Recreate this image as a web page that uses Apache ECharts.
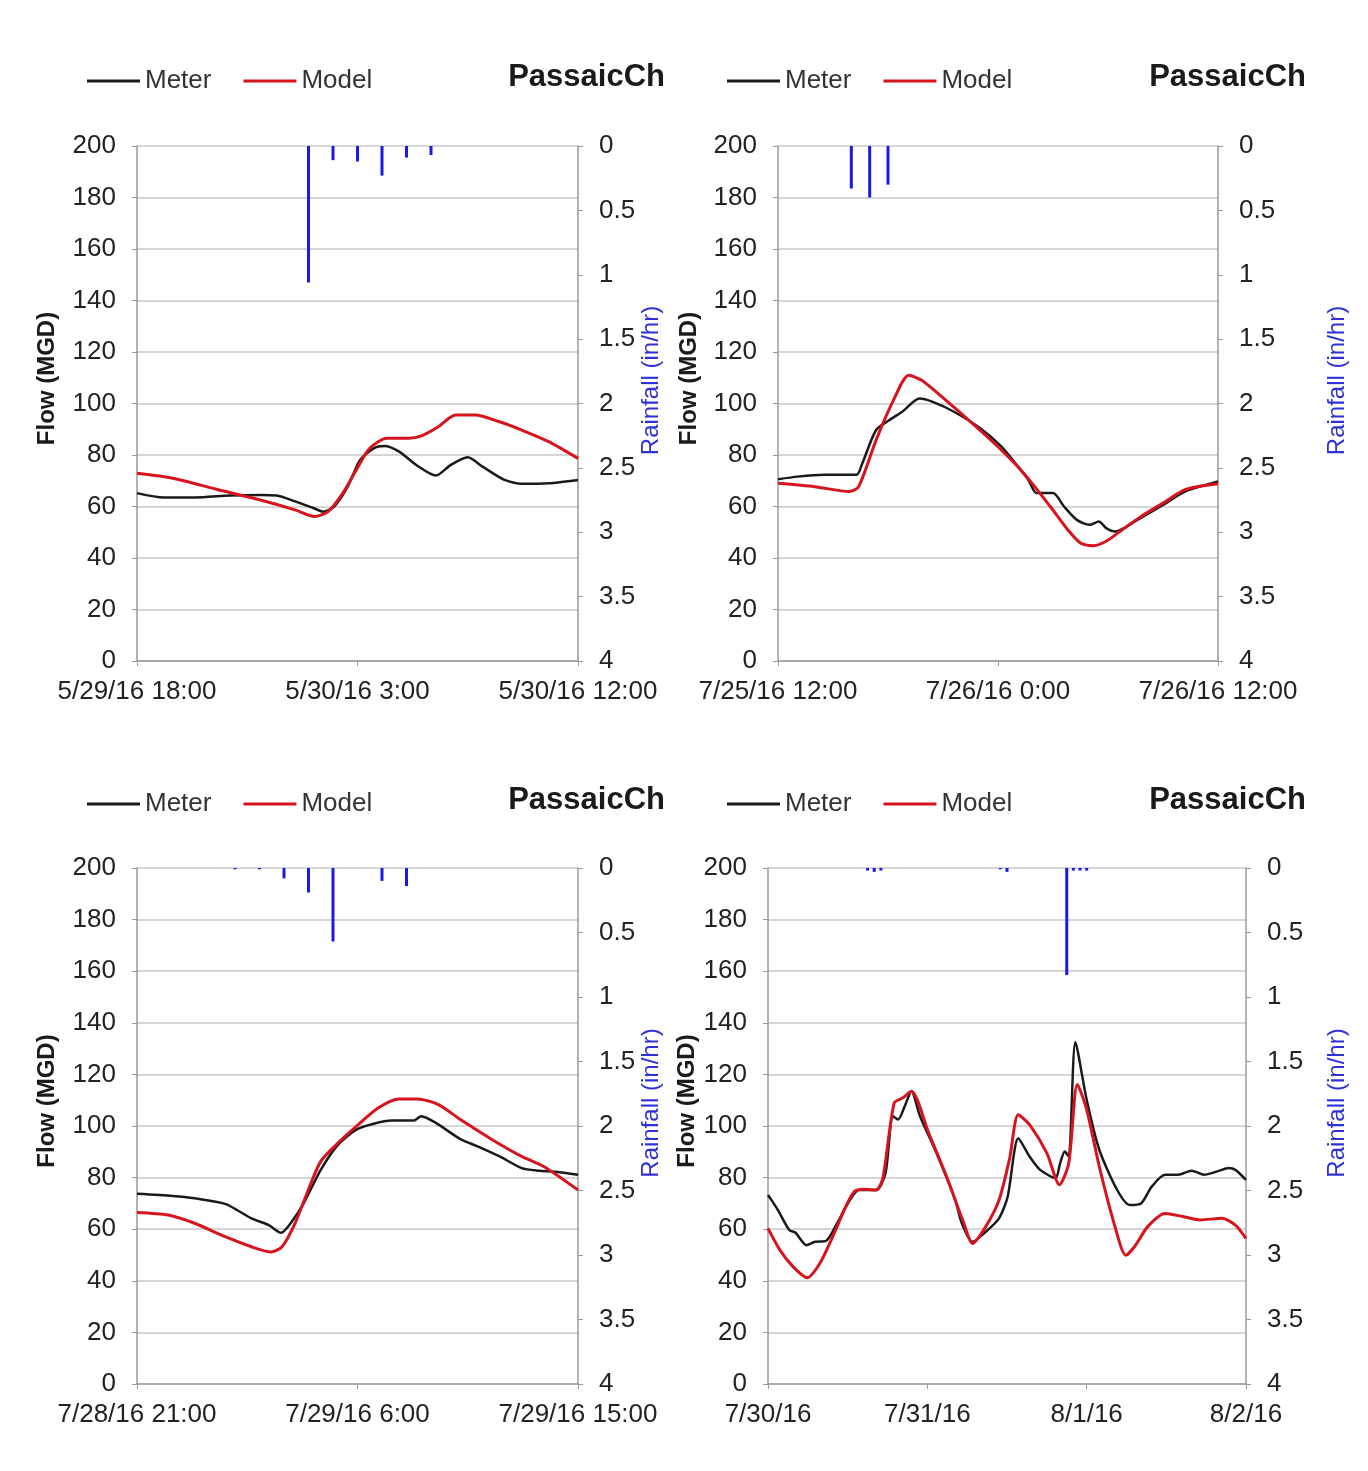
<!DOCTYPE html>
<html><head><meta charset="utf-8">
<script src="https://cdn.jsdelivr.net/npm/echarts@6/dist/echarts.min.js"></script>
<style>html,body{margin:0;padding:0;background:#fff}#c{width:1368px;height:1471px}</style>
</head><body><div id="c"></div>
<script>
// ---------- Panel 1: 5/29/16 18:00 - 5/30/16 12:00 (hours from start) ----------
const p1XTicks = ['5/29/16 18:00', '5/30/16 3:00', '5/30/16 12:00'];
const p1MeterT = [0, 1.1, 2.35, 3.8, 5.0, 5.7, 6.45, 7.2, 7.6, 8.05, 8.6, 9.1, 9.66, 10.1, 10.7, 11.4, 12.2, 12.8, 13.5, 14.1, 15.0, 15.7, 16.8, 18];
const p1MeterQ = [65.2, 63.5, 63.5, 64.3, 64.5, 64.3, 62, 59.4, 58, 60, 67.7, 78, 82.6, 83.5, 81.3, 76.1, 72, 76.1, 79.1, 75.5, 70.3, 68.8, 69, 70.3];
const p1ModelT = [0, 1.46, 3.24, 5.0, 6.45, 7.25, 7.8, 8.4, 8.95, 9.5, 10.2, 11.1, 11.6, 12.3, 13.0, 13.8, 14.8, 15.7, 16.8, 18];
const p1ModelQ = [72.9, 71, 66.7, 62.6, 58.7, 56.1, 58, 65.2, 74.2, 82.6, 86.5, 86.5, 87.4, 91, 95.5, 95.5, 92.9, 89.7, 85.2, 78.7];
const p1RainT = [7, 8, 9, 10, 11, 12];
const p1RainR = [1.06, 0.11, 0.12, 0.23, 0.09, 0.07];

// ---------- Panel 2: 7/25/16 12:00 - 7/26/16 12:00 ----------
const p2XTicks = ['7/25/16 12:00', '7/26/16 0:00', '7/26/16 12:00'];
const p2MeterT = [0, 1.07, 2.5, 4.28, 4.6, 5.35, 6.06, 6.77, 7.72, 8.44, 9.6, 11.05, 12.2, 12.95, 13.66, 14.1, 15.0, 15.6, 16.3, 17.0, 17.5, 17.9, 18.4, 19.6, 21, 22.2, 24];
const p2MeterQ = [70.6, 71.6, 72.3, 72.3, 76.8, 89.7, 93.5, 96.8, 101.9, 100.6, 96.8, 90.3, 83.2, 76.8, 70.3, 65.2, 65.2, 60, 54.8, 52.9, 54.2, 51.6, 50.3, 54.8, 60.6, 65.8, 69.7];
const p2ModelT = [0, 2.0, 3.9, 4.4, 5.35, 6.3, 7.13, 7.84, 9.15, 10.6, 12.0, 13.4, 14.85, 15.8, 16.5, 17.2, 17.9, 18.65, 19.8, 21.0, 22.2, 24];
const p2ModelQ = [69, 67.7, 65.8, 67.7, 85.8, 101.3, 111, 109, 101.3, 92.3, 83.2, 72.9, 60, 51, 45.8, 44.8, 46.5, 50.3, 56.1, 61.3, 66.5, 68.8];
const p2RainT = [4, 5, 6];
const p2RainR = [0.33, 0.40, 0.30];

// ---------- Panel 3: 7/28/16 21:00 - 7/29/16 15:00 ----------
const p3XTicks = ['7/28/16 21:00', '7/29/16 6:00', '7/29/16 15:00'];
const p3MeterT = [0, 1.46, 2.35, 3.6, 4.67, 5.38, 5.88, 6.27, 6.8, 7.5, 8.2, 8.95, 9.66, 10.4, 11.3, 11.6, 12.2, 13.2, 13.9, 14.8, 15.7, 16.4, 17.1, 18];
const p3MeterQ = [73.7, 72.9, 72.0, 69.8, 64.2, 61.6, 58.6, 62.3, 70, 83, 92.7, 98.6, 100.9, 102.1, 102.1, 103.8, 101.2, 94.9, 92.1, 88.2, 83.7, 82.7, 82.3, 81.1];
const p3ModelT = [0, 1.28, 2.35, 3.6, 4.67, 5.47, 5.92, 6.45, 6.99, 7.5, 8.2, 8.95, 9.84, 10.7, 11.44, 12.3, 13.2, 14.5, 15.7, 16.6, 18];
const p3ModelQ = [66.5, 65.5, 62.3, 57.1, 53.2, 51.2, 53.2, 62.3, 75.2, 86.3, 93.4, 99.9, 107, 110.5, 110.5, 108.3, 102.5, 94.7, 88.2, 84.3, 75.2];
const p3RainT = [4, 5, 6, 7, 8, 10, 11];
const p3RainR = [0.01, 0.01, 0.08, 0.19, 0.57, 0.10, 0.14];

// ---------- Panel 4: 7/30/16 - 8/2/16 ----------
const p4XTicks = ['7/30/16', '7/31/16', '8/1/16', '8/2/16'];
const p4MeterT = [0, 1.5, 3.2, 4.15, 5.8, 7.1, 8.76, 10.4, 12.4, 13.7, 16.3, 17.7, 18.8, 19.6, 20.6, 21.6, 22.9, 25.6, 28.2, 29.2, 30.8, 32.8, 34.8, 36.1, 37.7, 39.4, 41, 43.3, 44, 44.7, 45.3, 46.3, 48, 49.9, 52.6, 54.5, 56.2, 57.8, 59.8, 61.8, 63.8, 65.7, 67.7, 69.4, 70.4, 72];
const p4MeterQ = [73.3, 67.4, 59.7, 58.6, 53.8, 55.1, 55.5, 62.3, 71.6, 75.2, 75.2, 81.7, 103.8, 102.5, 107.7, 113.5, 103.8, 88.2, 71.3, 62.3, 55.1, 59, 64.2, 72.6, 95.3, 88.2, 83, 79.8, 85.6, 90.1, 88.2, 132.5, 110.2, 90.8, 75.2, 69.4, 70, 76.5, 81.1, 81.1, 82.7, 81.1, 82.4, 83.7, 83, 79.1];
const p4ModelT = [0, 1.8, 3.8, 5.9, 7.8, 9.75, 11.7, 13.0, 14.4, 16.3, 17.3, 19.0, 20.3, 21.6, 24.2, 26.9, 29.5, 30.8, 32.8, 34.8, 36.4, 37.7, 39.4, 42, 43.9, 45.3, 46.6, 48, 49.9, 52.2, 53.9, 55.2, 57.2, 59.8, 62.5, 65.1, 68.4, 70.4, 72];
const p4ModelQ = [60.3, 51.9, 45.4, 41.2, 46.7, 57.1, 68.7, 74.6, 75.5, 75.2, 79.8, 108.9, 110.9, 113.5, 97.3, 80.4, 62.3, 54.5, 61, 71.3, 87.5, 104.4, 100.5, 89.5, 77.2, 85.6, 116.1, 106.4, 84.3, 61.6, 49.9, 53.2, 61, 66.1, 64.9, 63.6, 64.2, 61.6, 56.4];
const p4RainT = [15, 16, 17, 35, 36, 45, 46, 47, 48];
const p4RainR = [0.02, 0.03, 0.02, 0.01, 0.03, 0.83, 0.02, 0.02, 0.02];

const flowTicks = [0, 200, 20];
const rainTicks = [0, 4, 0.5];

const zip = (a, b) => a.map((v, i) => [v, b[i]]);

const FONT = '"Liberation Sans", Arial, sans-serif';
const TXT = '#222';
const GRID_C = '#d6d6d6';
const AXIS_C = '#9a9a9a';

const panels = [
  { ticks: p1XTicks, max: 18, interval: 9, meter: zip(p1MeterT, p1MeterQ), model: zip(p1ModelT, p1ModelQ), rain: zip(p1RainT, p1RainR),
    grid: { left: 137, top: 146, width: 441, height: 515 }, legend: { left: 82, top: 63 }, title: { right: 703, top: 62 },
    flowGap: 78, rainGap: 54 },
  { ticks: p2XTicks, max: 24, interval: 12, meter: zip(p2MeterT, p2MeterQ), model: zip(p2ModelT, p2ModelQ), rain: zip(p2RainT, p2RainR),
    grid: { left: 778, top: 146, width: 440, height: 515 }, legend: { left: 722, top: 63 }, title: { right: 62, top: 62 },
    flowGap: 77, rainGap: 107 },
  { ticks: p3XTicks, max: 18, interval: 9, meter: zip(p3MeterT, p3MeterQ), model: zip(p3ModelT, p3ModelQ), rain: zip(p3RainT, p3RainR),
    grid: { left: 137, top: 868, width: 441, height: 516 }, legend: { left: 82, top: 786 }, title: { right: 703, top: 785 },
    flowGap: 78, rainGap: 54 },
  { ticks: p4XTicks, max: 72, interval: 24, meter: zip(p4MeterT, p4MeterQ), model: zip(p4ModelT, p4ModelQ), rain: zip(p4RainT, p4RainR),
    grid: { left: 768, top: 868, width: 478, height: 516 }, legend: { left: 722, top: 786 }, title: { right: 62, top: 785 },
    flowGap: 63, rainGap: 79 }
];

const option = {
  backgroundColor: '#fff',
  animation: false,
  textStyle: { fontFamily: FONT },
  grid: [], xAxis: [], yAxis: [], series: [], legend: [], title: []
};

panels.forEach((p, i) => {
  option.grid.push(Object.assign({ containLabel: false }, p.grid));
  option.title.push(Object.assign({ text: 'PassaicCh', padding: 0, textStyle: { fontFamily: FONT, fontSize: 31, fontWeight: 'bold', color: '#1a1a1a' } }, p.title));
  option.legend.push(Object.assign({
    data: [{ name: 'Meter', icon: 'rect' }, { name: 'Model', icon: 'rect' }], itemWidth: 53, itemHeight: 3, itemGap: 32,
    textStyle: { fontFamily: FONT, fontSize: 26, color: '#333' }
  }, p.legend));
  option.xAxis.push({
    type: 'value', gridIndex: i, min: 0, max: p.max, interval: p.interval,
    axisLine: { show: true, onZero: false, lineStyle: { color: AXIS_C, width: 1.5 } },
    axisTick: { show: true, length: 5, lineStyle: { color: AXIS_C } },
    splitLine: { show: false },
    axisLabel: { margin: 18, fontSize: 26, color: TXT, fontFamily: FONT, showMinLabel: true, showMaxLabel: true,
      formatter: v => p.ticks[Math.round(v / p.interval)] }
  });
  option.yAxis.push({
    type: 'value', gridIndex: i, min: flowTicks[0], max: flowTicks[1], interval: flowTicks[2],
    name: 'Flow (MGD)', nameLocation: 'middle', nameGap: p.flowGap, nameRotate: 90,
    nameTextStyle: { fontFamily: FONT, fontSize: 24, fontWeight: 'bold', color: '#1a1a1a', padding: [0, 0, 0, 50] },
    axisLine: { show: true, lineStyle: { color: AXIS_C, width: 1.5 } },
    axisTick: { show: true, length: 5, lineStyle: { color: AXIS_C } },
    splitLine: { show: true, lineStyle: { color: GRID_C, width: 2 } },
    axisLabel: { margin: 21, fontSize: 26, color: TXT, fontFamily: FONT }
  });
  option.yAxis.push({
    type: 'value', gridIndex: i, position: 'right', inverse: true,
    min: rainTicks[0], max: rainTicks[1], interval: rainTicks[2],
    name: 'Rainfall (in/hr)', nameLocation: 'middle', nameGap: p.rainGap, nameRotate: 90,
    nameTextStyle: { fontFamily: FONT, fontSize: 24, color: '#3030d8', padding: [0, 0, 0, 46] },
    axisLine: { show: true, lineStyle: { color: AXIS_C, width: 1.5 } },
    axisTick: { show: true, length: 5, lineStyle: { color: AXIS_C } },
    splitLine: { show: false },
    axisLabel: { margin: 21, fontSize: 26, color: TXT, fontFamily: FONT }
  });
  option.series.push({
    name: 'Rainfall', type: 'bar', xAxisIndex: i, yAxisIndex: 2 * i + 1,
    data: p.rain, barWidth: 3, itemStyle: { color: '#1a1ae6' }, legendHoverLink: false
  });
  option.series.push({
    name: 'Meter', type: 'line', xAxisIndex: i, yAxisIndex: 2 * i,
    data: p.meter, showSymbol: false, symbol: 'none', smooth: 0.25,
    lineStyle: { color: '#1a1a1a', width: 2.5 }, itemStyle: { color: '#1a1a1a' }
  });
  option.series.push({
    name: 'Model', type: 'line', xAxisIndex: i, yAxisIndex: 2 * i,
    data: p.model, showSymbol: false, symbol: 'none', smooth: 0.25,
    lineStyle: { color: '#d7141e', width: 3 }, itemStyle: { color: '#d7141e' }
  });
});

const chart = echarts.init(document.getElementById('c'), null, { renderer: 'canvas' });
chart.setOption(option);
</script>
</body></html>
